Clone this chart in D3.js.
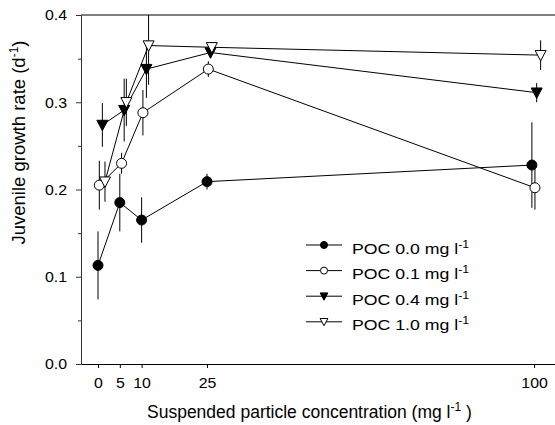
<!DOCTYPE html>
<html>
<head>
<meta charset="utf-8">
<script src="https://cdn.jsdelivr.net/npm/d3@7"></script>
<style>
  body { margin: 0; background: #fff; }
  svg { display: block; font-family: "Liberation Sans", Arial, sans-serif; }
</style>
</head>
<body>
<svg id="chart" width="555" height="425"></svg>
<script>
// ---- data ----
const xTickValues = [0, 5, 10, 25, 100];
const yTickValues = [0.0, 0.1, 0.2, 0.3, 0.4];
const yMinorTicks = [0.05, 0.15, 0.25, 0.35];

const seriesNames = ["POC 0.0 mg l", "POC 0.1 mg l", "POC 0.4 mg l", "POC 1.0 mg l"];
const seriesSymbols = ["circleFilled", "circleOpen", "triFilled", "triOpen"];

const x00 = [0, 5, 10, 25, 99.5];
const y00 = [0.113, 0.185, 0.165, 0.209, 0.228];
const e00 = [0.039, 0.033, 0.026, 0.009, 0.049];

const x01 = [0.3, 5.4, 10.3, 25.3, 100.2];
const y01 = [0.205, 0.230, 0.288, 0.338, 0.202];
const e01 = [0.028, 0.012, 0.026, 0.009, 0.025];

const x04 = [1.0, 6.0, 11.1, 25.8, 100.6];
const y04 = [0.274, 0.291, 0.338, 0.357, 0.311];
const e04 = [0.025, 0.036, 0.033, 0.005, 0.011];

const x10 = [1.6, 6.5, 11.6, 26.1, 101.5];
const y10 = [0.209, 0.300, 0.365, 0.363, 0.354];
const e10 = [0.023, 0.027, 0.045, 0.006, 0.017];

const seriesX = [x00, x01, x04, x10];
const seriesY = [y00, y01, y04, y10];
const seriesE = [e00, e01, e04, e10];

// ---- layout ----
const svg = d3.select("#chart");
const x = d3.scaleLinear().domain([-3.9, 104.8]).range([81, 555]);
const y = d3.scaleLinear().domain([0, 0.4]).range([364, 15]);
const tickStretch = 1.06, textStretch = 1.18;

// axes
const yAxis = d3.axisLeft(y).tickValues(yTickValues).tickFormat(d3.format(".1f")).tickSize(5).tickPadding(9).tickSizeOuter(0);
const gy = svg.append("g").attr("transform", "translate(81,0)").call(yAxis);
gy.selectAll(".tick text").style("font-size", "15px").attr("fill", "#000")
  .attr("x", -14 / tickStretch).attr("transform", `scale(${tickStretch},1)`);
gy.select(".domain").attr("stroke", "#333");
gy.selectAll(".tick line").attr("stroke", "#333");
svg.append("g").attr("transform", "translate(81,0)")
  .call(d3.axisLeft(y).tickValues(yMinorTicks).tickSize(3).tickFormat("").tickSizeOuter(0))
  .call(g => g.select(".domain").remove())
  .selectAll(".tick line").attr("stroke", "#333");

const xAxis = d3.axisBottom(x).tickValues(xTickValues).tickSize(4).tickPadding(9).tickSizeOuter(0);
const gx = svg.append("g").attr("transform", "translate(0,364)").call(xAxis);
gx.selectAll(".tick text").style("font-size", "15px").attr("fill", "#000")
  .attr("transform", `scale(${tickStretch},1)`);

// top frame line
svg.append("line").attr("x1", x.range()[0]).attr("x2", x.range()[1])
  .attr("y1", y(0.4)).attr("y2", y(0.4)).attr("stroke", "#000");

// axis titles
const yt = svg.append("text")
  .attr("transform", `translate(25,142.5) rotate(-90)`)
  .attr("text-anchor", "middle").style("font-size", "18.5px");
yt.append("tspan").text("Juvenile growth rate (d");
yt.append("tspan").attr("dy", -7).style("font-size", "12px").text("-1");
yt.append("tspan").attr("dy", 7).text(")");

const xt = svg.append("text").attr("x", 147).attr("y", 418).style("font-size", "17.5px");
xt.append("tspan").text("Suspended particle concentration (mg l");
xt.append("tspan").attr("dy", -7).style("font-size", "12px").text("-1");
xt.append("tspan").attr("dy", 7).text(" )");

// ---- series ----
function drawSymbol(g, type, cx, cy, s) {
  if (type.startsWith("circle")) {
    g.append("circle").attr("cx", cx).attr("cy", cy).attr("r", 5 * s)
      .attr("fill", type === "circleFilled" ? "#000" : "#fff").attr("stroke", "#000").attr("stroke-width", 1);
  } else {
    const w = 5.5 * s, h = 5.5 * s;
    g.append("path")
      .attr("d", `M${cx - w},${cy - h * 0.85}L${cx + w},${cy - h * 0.85}L${cx},${cy + h * 1.05}Z`)
      .attr("fill", type === "triFilled" ? "#000" : "#fff").attr("stroke", "#000").attr("stroke-width", 1);
  }
}

const line = d3.line().x(d => x(d.x)).y(d => y(d.y));
const plot = svg.append("g");
const seriesData = seriesX.map((xs, i) => xs.map((v, j) => ({ x: v, y: seriesY[i][j], e: seriesE[i][j] })));

seriesData.forEach(data => {
  plot.append("path").datum(data).attr("d", line).attr("fill", "none").attr("stroke", "#000").attr("stroke-width", 1);
});
seriesData.forEach(data => {
  data.forEach(d => {
    plot.append("line").attr("x1", x(d.x)).attr("x2", x(d.x))
      .attr("y1", y(Math.min(0.4, d.y + d.e))).attr("y2", y(Math.max(0, d.y - d.e)))
      .attr("stroke", "#000").attr("stroke-width", 1);
  });
});
seriesData.forEach((data, i) => {
  data.forEach(d => drawSymbol(plot, seriesSymbols[i], x(d.x), y(d.y), 1));
});

// ---- legend ----
const legend = svg.append("g");
seriesNames.forEach((name, i) => {
  const ly = 245 + i * 25.6;
  legend.append("line").attr("x1", 306).attr("x2", 342).attr("y1", ly).attr("y2", ly).attr("stroke", "#000");
  drawSymbol(legend, seriesSymbols[i], 324, ly, 0.7);
  const t = legend.append("g").attr("transform", `translate(352,${ly + 8.5}) scale(${textStretch},1)`)
    .append("text").style("font-size", "15px");
  t.append("tspan").text(name);
  t.append("tspan").attr("dy", -6).style("font-size", "10.5px").text("-1");
});
</script>
</body>
</html>
